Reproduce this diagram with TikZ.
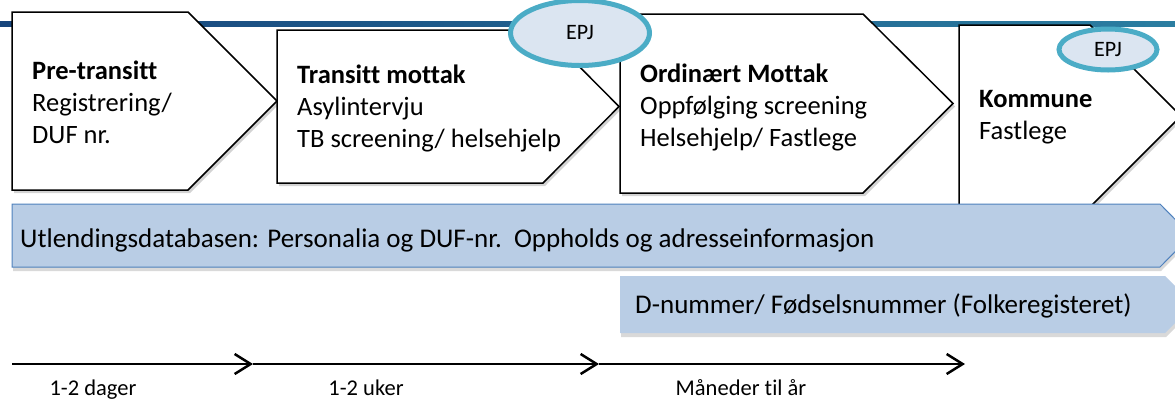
\documentclass[tikz,border=0pt]{standalone}
\usepackage{fontspec}
\setmainfont[Ligatures=NoCommon]{Carlito}
\usetikzlibrary{shapes.geometric,shadows,arrows.meta}
\definecolor{topblue}{HTML}{17457C}
\definecolor{topteal}{HTML}{2B7EA1}
\definecolor{bandfill}{HTML}{B9CDE5}
\definecolor{bandline}{HTML}{4F81BD}
\definecolor{epjfill}{HTML}{DBE5F1}
\definecolor{epjline}{HTML}{4BACC6}

\begin{document}
\begin{tikzpicture}[x=1pt,y=-1pt,
  stage_box/.style={draw=black,line width=1.5pt,fill=white,
    drop shadow={shadow xshift=2pt,shadow yshift=-3pt,fill=black!50,opacity=0.35}},
  band_box/.style={fill=bandfill,
    drop shadow={shadow xshift=1pt,shadow yshift=-4pt,fill=black!50,opacity=0.3}},
  epj_node/.style={ellipse,draw=epjline,line width=5pt,fill=epjfill,inner sep=0pt,
    font=\fontsize{22}{26}\selectfont},
  stage_text/.style={anchor=north west,inner sep=0pt,align=left,
    font=\fontsize{26.5}{32}\selectfont},
  band_text/.style={anchor=base west,inner sep=0pt,font=\fontsize{27}{32}\selectfont},
  time_line/.style={line width=2.5pt,-{Straight Barb[length=16pt,width=20pt]}},
  time_label/.style={anchor=base,inner sep=0pt,font=\fontsize{22.5}{26}\selectfont}]

    \useasboundingbox (0,0) rectangle (1175,400);

    % top rule
    \fill[left color=topblue,right color=topteal] (0,21) rectangle (1175,26);

    % stages
    \draw[stage_box] (12,12) -- (188,12) -- (277,101) -- (188,190) -- (12,190) -- cycle;
    \draw[stage_box] (277,30) -- (543,30) -- (619,106.5) -- (543,183) -- (277,183) -- cycle;
    \draw[stage_box] (620,14) -- (863,14) -- (953,103.5) -- (863,193) -- (620,193) -- cycle;
    \draw[stage_box] (959,25) -- (1090,25) -- (1181,116) -- (1090,207) -- (959,207) -- cycle;

    \node[stage_text] (pre) at (32,56.6) {\strut\textbf{Pre-transitt}\\Registrering/\\DUF nr.};
    \node[stage_text] (transitt) at (297,60.6) {\strut\textbf{Transitt mottak}\\Asylintervju\\TB screening/ helsehjelp};
    \node[stage_text] (ordinaert) at (640,59.6) {\strut\textbf{Ordinært Mottak}\\Oppfølging screening\\Helsehjelp/ Fastlege};
    \node[stage_text] (kommune) at (979,84.6) {\strut\textbf{Kommune}\\Fastlege};

    % registers
    \draw[band_box,draw=bandline,line width=1pt] (12,204) -- (1160,204) -- (1191,235.5) -- (1160,267) -- (12,267) -- cycle;
    \fill[band_box] (620,276) -- (1165,276) -- (1194,304.5) -- (1165,333) -- (620,333) -- cycle;
    \node[band_text] (udb) at (20,247) {Utlendingsdatabasen: Personalia og DUF-nr.\ \ Oppholds og adresseinformasjon};
    \node[band_text] (dnr) at (635,313) {D-nummer/ Fødselsnummer (Folkeregisteret)};

    % journals
    \node[epj_node,minimum width=139pt,minimum height=65pt] (epj1) at (580,33) {EPJ};
    \node[epj_node,minimum width=98pt,minimum height=41pt] (epj2) at (1108,49.5) {EPJ};

    % time line
    \coordinate (t0) at (12,364);
    \coordinate (t1) at (253,364);
    \coordinate (t2) at (599,364);
    \coordinate (t3) at (965,364);
    \draw[time_line] (t0) -- (t1);
    \draw[time_line] (t1) -- (t2);
    \draw[time_line] (t2) -- (t3);
    \node[time_label] (dager) at (93,395) {1-2 dager};
    \node[time_label] (uker) at (366,395) {1-2 uker};
    \node[time_label] (maaneder) at (741,395) {Måneder til år};
\end{tikzpicture}
\end{document}
